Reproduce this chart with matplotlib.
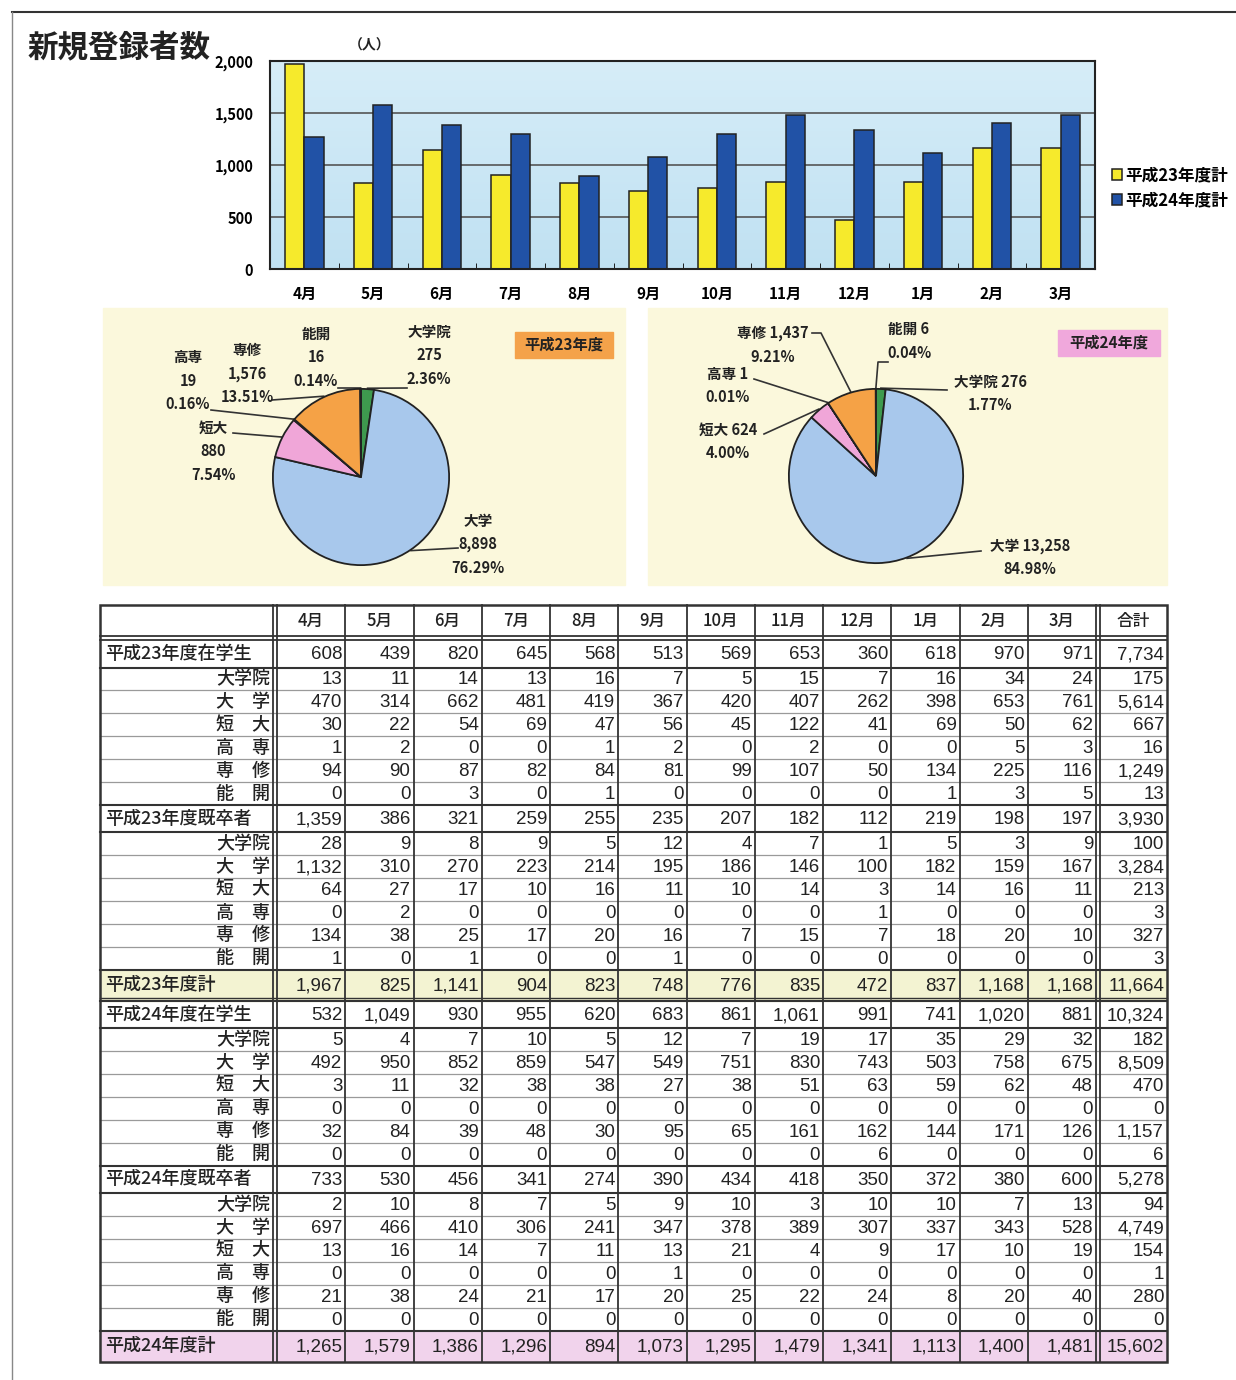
import numpy as np
import matplotlib.pyplot as plt
from matplotlib.patches import Rectangle
from matplotlib.colors import LinearSegmentedColormap

plt.rcParams['font.family'] = ['Noto Sans CJK JP', 'DejaVu Sans']

months = ['4月', '5月', '6月', '7月', '8月', '9月', '10月', '11月', '12月', '1月', '2月', '3月']
header = months + ['合計']
sub_names = ['大学院', '大　学', '短　大', '高　専', '専　修', '能　開']

# 平成23年度 (12 months + 合計)
h23_zai = [608, 439, 820, 645, 568, 513, 569, 653, 360, 618, 970, 971, 7734]
h23_zai_in = [13, 11, 14, 13, 16, 7, 5, 15, 7, 16, 34, 24, 175]
h23_zai_dai = [470, 314, 662, 481, 419, 367, 420, 407, 262, 398, 653, 761, 5614]
h23_zai_tan = [30, 22, 54, 69, 47, 56, 45, 122, 41, 69, 50, 62, 667]
h23_zai_kou = [1, 2, 0, 0, 1, 2, 0, 2, 0, 0, 5, 3, 16]
h23_zai_sen = [94, 90, 87, 82, 84, 81, 99, 107, 50, 134, 225, 116, 1249]
h23_zai_nou = [0, 0, 3, 0, 1, 0, 0, 0, 0, 1, 3, 5, 13]
h23_ki = [1359, 386, 321, 259, 255, 235, 207, 182, 112, 219, 198, 197, 3930]
h23_ki_in = [28, 9, 8, 9, 5, 12, 4, 7, 1, 5, 3, 9, 100]
h23_ki_dai = [1132, 310, 270, 223, 214, 195, 186, 146, 100, 182, 159, 167, 3284]
h23_ki_tan = [64, 27, 17, 10, 16, 11, 10, 14, 3, 14, 16, 11, 213]
h23_ki_kou = [0, 2, 0, 0, 0, 0, 0, 0, 1, 0, 0, 0, 3]
h23_ki_sen = [134, 38, 25, 17, 20, 16, 7, 15, 7, 18, 20, 10, 327]
h23_ki_nou = [1, 0, 1, 0, 0, 1, 0, 0, 0, 0, 0, 0, 3]
h23_total = [1967, 825, 1141, 904, 823, 748, 776, 835, 472, 837, 1168, 1168, 11664]

# 平成24年度
h24_zai = [532, 1049, 930, 955, 620, 683, 861, 1061, 991, 741, 1020, 881, 10324]
h24_zai_in = [5, 4, 7, 10, 5, 12, 7, 19, 17, 35, 29, 32, 182]
h24_zai_dai = [492, 950, 852, 859, 547, 549, 751, 830, 743, 503, 758, 675, 8509]
h24_zai_tan = [3, 11, 32, 38, 38, 27, 38, 51, 63, 59, 62, 48, 470]
h24_zai_kou = [0, 0, 0, 0, 0, 0, 0, 0, 0, 0, 0, 0, 0]
h24_zai_sen = [32, 84, 39, 48, 30, 95, 65, 161, 162, 144, 171, 126, 1157]
h24_zai_nou = [0, 0, 0, 0, 0, 0, 0, 0, 6, 0, 0, 0, 6]
h24_ki = [733, 530, 456, 341, 274, 390, 434, 418, 350, 372, 380, 600, 5278]
h24_ki_in = [2, 10, 8, 7, 5, 9, 10, 3, 10, 10, 7, 13, 94]
h24_ki_dai = [697, 466, 410, 306, 241, 347, 378, 389, 307, 337, 343, 528, 4749]
h24_ki_tan = [13, 16, 14, 7, 11, 13, 21, 4, 9, 17, 10, 19, 154]
h24_ki_kou = [0, 0, 0, 0, 0, 1, 0, 0, 0, 0, 0, 0, 1]
h24_ki_sen = [21, 38, 24, 21, 17, 20, 25, 22, 24, 8, 20, 40, 280]
h24_ki_nou = [0, 0, 0, 0, 0, 0, 0, 0, 0, 0, 0, 0, 0]
h24_total = [1265, 1579, 1386, 1296, 894, 1073, 1295, 1479, 1341, 1113, 1400, 1481, 15602]

# pie data (order: 大学院, 大学, 短大, 高専, 専修, 能開)
pie_names = ['大学院', '大学', '短大', '高専', '専修', '能開']
pie23_vals = [275, 8898, 880, 19, 1576, 16]
pie23_pct = ['2.36%', '76.29%', '7.54%', '0.16%', '13.51%', '0.14%']
pie24_vals = [276, 13258, 624, 1, 1437, 6]
pie24_pct = ['1.77%', '84.98%', '4.00%', '0.01%', '9.21%', '0.04%']
pie_colors = ['#3e9a4e', '#a8c8ec', '#f0a6d8', '#f3ee9a', '#f5a246', '#2f6f3a']

W, H = 1236, 1380
fig = plt.figure(figsize=(W / 100, H / 100), dpi=100)
bg = fig.add_axes([0, 0, 1, 1])
bg.set_xlim(0, W)
bg.set_ylim(H, 0)
bg.axis('off')


def px_axes(x0, y0, x1, y1):
    return fig.add_axes([x0 / W, 1 - y1 / H, (x1 - x0) / W, (y1 - y0) / H])


def fmt(v):
    return f'{v:,}'


# page frame
bg.plot([12, W], [12, 12], color='#333', lw=1.5)
bg.plot([12, 12], [12, H], color='#888', lw=1)

bg.text(28, 47, '新規登録者数', fontsize=22, fontweight='bold', va='center', ha='left', color='#222')
bg.text(370, 45, '（人）', fontsize=10, fontweight='bold', va='center', ha='center', color='#222')

# ---- bar chart ----
ax = px_axes(270, 61, 1095, 269)
x = np.arange(12)
grad = LinearSegmentedColormap.from_list('g', ['#c0e1f2', '#d6edf8'])
ax.imshow(np.linspace(0, 1, 100).reshape(-1, 1), extent=[-0.5, 11.5, 0, 2000], aspect='auto',
          cmap=grad, origin='lower', zorder=0)
ax.bar(x - 0.14, h23_total[:12], 0.28, color='#f6ea2c', edgecolor='#222', lw=1.1, zorder=2, label='平成23年度計')
ax.bar(x + 0.14, h24_total[:12], 0.28, color='#2152a6', edgecolor='#222', lw=1.1, zorder=2, label='平成24年度計')
ax.set_xlim(-0.5, 11.5)
ax.set_ylim(0, 2000)
ax.set_yticks([0, 500, 1000, 1500, 2000])
ax.set_yticklabels(['0', '500', '1,000', '1,500', '2,000'], fontsize=10.5, fontweight='bold')
for yv in [500, 1000, 1500]:
    ax.axhline(yv, color='#555', lw=1.2, zorder=1)
ax.set_xticks(x)
ax.set_xticklabels(months, fontsize=11, fontweight='bold')
ax.set_xticks(np.arange(-0.5, 12, 1), minor=True)
ax.tick_params(axis='x', which='major', length=0, pad=12)
ax.tick_params(axis='x', which='minor', length=4, direction='in')
ax.tick_params(axis='y', length=0, pad=12)
for s in ax.spines.values():
    s.set_linewidth(1.5)
    s.set_color('#222')
ax.legend(loc='center left', bbox_to_anchor=(1.01, 0.39), frameon=False, handlelength=0.6,
          handleheight=0.6, handletextpad=0.25, labelspacing=0.45, borderpad=0,
          prop={'size': 12, 'weight': 'bold'})

# ---- pies ----
bg.add_patch(Rectangle((103, 308), 522, 277, color='#fbf8dc', zorder=0))
bg.add_patch(Rectangle((648, 308), 519, 277, color='#fbf8dc', zorder=0))
bg.add_patch(Rectangle((515, 332), 98, 26, color='#f4a24a', zorder=1))
bg.text(564, 345, '平成23年度', fontsize=11, fontweight='bold', ha='center', va='center', color='#222')
bg.add_patch(Rectangle((1058, 330), 102, 26, color='#f0a8dc', zorder=1))
bg.text(1109, 343, '平成24年度', fontsize=11, fontweight='bold', ha='center', va='center', color='#222')


def draw_pie(vals, cx, cy, r):
    pa = px_axes(cx - r, cy - r, cx + r, cy + r)
    wedges, _ = pa.pie(vals, colors=pie_colors, startangle=90, counterclock=False,
                       wedgeprops=dict(edgecolor='#222', linewidth=1.3))
    pa.set_xlim(-1.01, 1.01)
    pa.set_ylim(-1.01, 1.01)
    pa.axis('off')
    ends = []
    for w in wedges:
        m = np.deg2rad((w.theta1 + w.theta2) / 2)
        ends.append((cx + r * np.cos(m), cy - r * np.sin(m)))
    return ends


def label(lines, tx, ty, path, end, step=23.5):
    for i, s in enumerate(lines):
        bg.text(tx, ty + i * step, s, fontsize=10.5, fontweight='bold', ha='center', va='center', color='#222')
    pts = path + [end]
    bg.plot([p[0] for p in pts], [p[1] for p in pts], color='#333', lw=1.2)


ends23 = draw_pie(pie23_vals, 361, 477, 89)
pos23 = [((429, 332), [(407, 388)]),
         ((478, 521), [(458, 548)]),
         ((213, 428), [(233, 433)]),
         ((188, 357), [(211, 410)]),
         ((247, 350), [(272, 400)]),
         ((316, 334), [(338, 388)])]
for i in range(6):
    (tx, ty), path = pos23[i]
    label([pie_names[i], fmt(pie23_vals[i]), pie23_pct[i]], tx, ty, path, ends23[i])

ends24 = draw_pie(pie24_vals, 876, 476, 88)
pos24 = [((990, 382), [(947, 390)]),
         ((1030, 546), [(981, 551)]),
         ((728, 430), [(764, 434)]),
         ((728, 374), [(754, 379)]),
         ((773, 333), [(812, 333), (821, 333)]),
         ((909, 329), [(888, 362), (878, 362)])]
for i in range(6):
    (tx, ty), path = pos24[i]
    label([f'{pie_names[i]} {fmt(pie24_vals[i])}', pie24_pct[i]], tx, ty, path, ends24[i])

# ---- table ----
rows = [('平成23年度在学生', h23_zai, 'main')]
rows += [(n, v, 'sub') for n, v in zip(sub_names, [h23_zai_in, h23_zai_dai, h23_zai_tan, h23_zai_kou, h23_zai_sen, h23_zai_nou])]
rows += [('平成23年度既卒者', h23_ki, 'main')]
rows += [(n, v, 'sub') for n, v in zip(sub_names, [h23_ki_in, h23_ki_dai, h23_ki_tan, h23_ki_kou, h23_ki_sen, h23_ki_nou])]
rows += [('平成23年度計', h23_total, 'total23')]
rows += [('平成24年度在学生', h24_zai, 'main')]
rows += [(n, v, 'sub') for n, v in zip(sub_names, [h24_zai_in, h24_zai_dai, h24_zai_tan, h24_zai_kou, h24_zai_sen, h24_zai_nou])]
rows += [('平成24年度既卒者', h24_ki, 'main')]
rows += [(n, v, 'sub') for n, v in zip(sub_names, [h24_ki_in, h24_ki_dai, h24_ki_tan, h24_ki_kou, h24_ki_sen, h24_ki_nou])]
rows += [('平成24年度計', h24_total, 'total24')]

heights = {'main': 27.5, 'sub': 22.9, 'total23': 31, 'total24': 31}
fills = {'total23': '#f3f3d2', 'total24': '#f1d3ec'}
tl, tr, ttop = 100, 1167, 605
col_edges = np.linspace(277, 1096, 13)
cell_l = list(col_edges[:-1]) + [1100]
cell_r = list(col_edges[1:]) + [1167]
dark = '#333'

# header
for j, h in enumerate(header):
    bg.text((cell_l[j] + cell_r[j]) / 2, 621, h, fontsize=12, fontweight='medium',
            ha='center', va='center', color='#222')

y = 640
prev = None
for lab, vals, kind in rows:
    h = heights[kind]
    if kind in fills:
        bg.add_patch(Rectangle((tl, y), tr - tl, h, color=fills[kind], zorder=0))
    if prev is not None:
        if kind == 'sub' and prev == 'sub':
            bg.plot([tl, tr], [y, y], color='#9a9a9a', lw=0.9)
        else:
            bg.plot([tl, tr], [y, y], color=dark, lw=1.5)
            if prev.startswith('total'):
                bg.plot([tl, tr], [y - 2.5, y - 2.5], color=dark, lw=1.0)
    if kind == 'sub':
        bg.text(270, y + h / 2, lab, fontsize=13, fontweight='medium', ha='right', va='center', color='#222')
    else:
        bg.text(105, y + h / 2, lab, fontsize=13, fontweight='medium', ha='left', va='center', color='#222')
    for j, v in enumerate(vals):
        bg.text(cell_r[j] - 3, y + h / 2 + 1, fmt(v), fontsize=13.5, family='Liberation Sans',
                ha='right', va='center', color='#222')
    y += h
    prev = kind
tbot = y

# table grid
bg.add_patch(Rectangle((tl, ttop), tr - tl, tbot - ttop, fill=False, edgecolor=dark, lw=1.8, zorder=3))
bg.plot([tl, tr], [636, 636], color=dark, lw=1.3)
bg.plot([tl, tr], [640, 640], color=dark, lw=1.3)
for xe in [273, 277, 1096, 1100]:
    bg.plot([xe, xe], [ttop, tbot], color=dark, lw=1.3)
for xe in col_edges[1:-1]:
    bg.plot([xe, xe], [ttop, tbot], color=dark, lw=1.3)

fig.savefig('out.png', dpi=100)
